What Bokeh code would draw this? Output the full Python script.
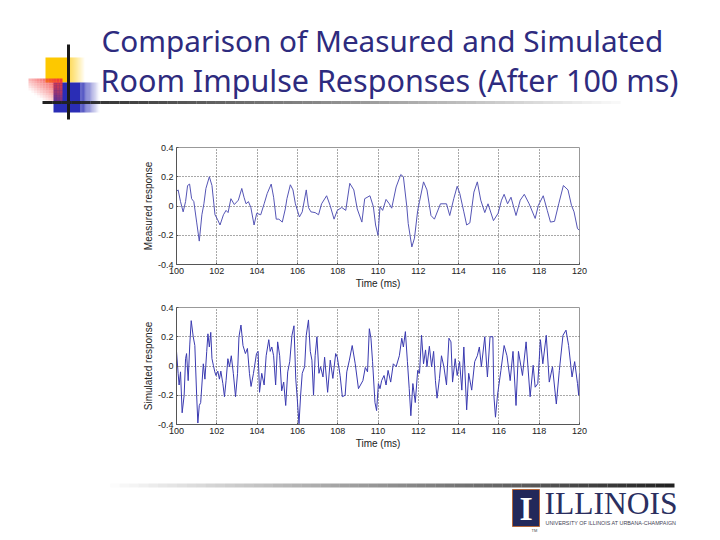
from bokeh.embed import file_html
from bokeh.resources import INLINE
from bokeh.layouts import column
from bokeh.plotting import figure
from bokeh.models import FixedTicker, Range1d
from bokeh.core.properties import value

TITLE_LINES = ["Comparison of Measured and Simulated",
               "Room Impulse Responses (After 100 ms)"]
X_TICKS = [100, 102, 104, 106, 108, 110, 112, 114, 116, 118, 120]
Y_TICKS = [-0.4, -0.2, 0, 0.2, 0.4]
X_LABEL = "Time (ms)"
LABEL_TOP = "Measured response"
LABEL_BOTTOM = "Simulated response"

top_t = [100,100.08,100.2,100.33,100.45,100.55,100.65,100.75,100.86,101,101.13,101.26,101.36,101.46,101.63,101.76,101.91,102.03,102.16,102.33,102.46,102.56,102.7,102.87,103.07,103.24,103.35,103.45,103.57,103.69,103.85,103.98,104.18,104.35,104.5,104.7,104.82,104.95,105.08,105.25,105.4,105.48,105.65,105.78,105.9,106.1,106.24,106.44,106.55,106.67,106.88,107.05,107.2,107.45,107.62,107.82,107.98,108.2,108.4,108.6,108.8,108.97,109.2,109.34,109.6,109.77,109.88,110,110.1,110.23,110.4,110.56,110.68,110.9,111.13,111.26,111.43,111.5,111.68,111.81,111.97,112.06,112.26,112.43,112.63,112.8,113.1,113.4,113.56,113.76,113.93,114.06,114.26,114.4,114.56,114.76,114.93,115.1,115.3,115.46,115.73,115.96,116.13,116.26,116.43,116.6,116.85,117.06,117.26,117.5,117.8,117.96,118.2,118.4,118.56,118.76,118.97,119.2,119.43,119.6,119.73,119.9,120]
top_v = [0.1,0.11,0.03,-0.04,0.03,0.14,0.15,0.05,0.03,-0.11,-0.24,-0.06,0.015,0.12,0.2,0.14,-0.06,-0.09,-0.13,-0.06,-0.03,-0.045,0.05,0.01,0.04,0.12,0.06,0.015,0.03,-0.01,-0.13,-0.05,-0.06,0.015,0.085,0.15,0.06,-0.09,-0.09,-0.11,-0.02,0.05,0.145,0.11,0.015,-0.075,-0.04,0.11,-0.01,-0.04,-0.045,-0.06,0.015,0.07,0.005,-0.09,-0.03,-0.01,-0.03,0.155,0.11,-0.02,-0.11,0.05,0.07,-0.005,-0.13,-0.2,-0.005,-0.03,0.045,0.015,-0.015,0.13,0.215,0.2,-0.005,-0.12,-0.28,-0.22,-0.03,0.03,0.165,0.11,-0.065,-0.09,0.015,0.015,-0.065,0.05,0.135,0.085,-0.04,-0.13,-0.115,0.095,0.165,0.04,-0.045,0.015,-0.1,-0.05,0.04,0.08,0.015,0.06,-0.065,0.04,0.08,0.015,-0.085,0.005,0.07,-0.03,-0.11,-0.105,0.015,0.14,0.11,0.005,-0.04,-0.155,-0.165]

bot_t = [100,100.08,100.13,100.2,100.28,100.38,100.45,100.5,100.58,100.66,100.73,100.83,100.91,101,101.06,101.13,101.2,101.26,101.33,101.41,101.5,101.56,101.63,101.7,101.76,101.83,101.9,101.96,102.05,102.13,102.2,102.3,102.38,102.46,102.55,102.63,102.72,102.82,102.93,103.03,103.1,103.2,103.3,103.42,103.52,103.62,103.7,103.82,103.97,104.05,104.12,104.23,104.35,104.45,104.58,104.65,104.73,104.82,104.92,105.02,105.12,105.22,105.32,105.42,105.52,105.62,105.73,105.83,105.92,105.98,106.08,106.16,106.24,106.36,106.44,106.55,106.64,106.72,106.8,106.88,106.97,107.07,107.15,107.27,107.35,107.5,107.63,107.76,107.9,107.98,108.12,108.23,108.37,108.45,108.58,108.72,108.87,109.03,109.25,109.37,109.48,109.57,109.65,109.73,109.85,109.93,110.02,110.1,110.18,110.3,110.4,110.5,110.63,110.76,110.9,111.06,111.18,111.26,111.36,111.46,111.55,111.63,111.73,111.85,111.97,112.06,112.16,112.26,112.36,112.43,112.55,112.66,112.76,112.85,112.93,113.05,113.15,113.27,113.4,113.52,113.62,113.7,113.83,113.93,114.05,114.16,114.26,114.4,114.5,114.65,114.8,114.93,115.03,115.13,115.3,115.43,115.56,115.7,115.75,115.83,115.93,116.1,116.26,116.4,116.56,116.7,116.85,116.97,117.17,117.35,117.55,117.7,117.8,117.93,118.06,118.18,118.35,118.5,118.66,118.85,119,119.18,119.33,119.46,119.63,119.76,119.9,119.96,120]
bot_v = [0.1,-0.05,-0.13,-0.04,-0.32,-0.2,0.05,0.085,-0.1,0.15,0.31,0.2,0.14,-0.2,-0.39,-0.27,-0.25,-0.13,0.015,-0.09,0.1,0.22,0.13,0.23,0.05,0.005,-0.04,-0.065,-0.035,-0.09,-0.035,-0.12,-0.21,-0.1,0.05,-0.005,0.07,-0.05,-0.21,-0.05,0.2,0.28,0.14,0.085,0.12,-0.05,-0.14,-0.05,0.085,0.1,-0.18,-0.05,-0.13,0.07,0.18,0.1,0.13,0.07,-0.13,0.165,0.07,-0.17,-0.11,-0.27,-0.04,0.03,0.21,0.275,-0.09,-0.2,-0.395,-0.2,-0.05,-0.005,0.21,0.315,0.1,0.04,-0.2,0.07,0.2,-0.05,-0.005,-0.075,0.06,-0.18,0.04,-0.085,0.085,0.06,-0.065,-0.21,-0.2,-0.04,0.04,0.14,0.015,-0.155,-0.1,-0.01,-0.04,0.255,0.19,0.03,-0.25,-0.305,-0.12,-0.155,-0.1,-0.065,-0.13,-0.03,-0.11,0.015,-0.005,0.07,0.19,0.13,0.235,0.03,-0.155,-0.34,-0.12,-0.25,-0.03,-0.05,0.21,0.015,0.11,-0.005,0.135,-0.005,0.1,-0.1,-0.22,-0.085,0.07,-0.005,-0.13,0.19,0.165,-0.11,0.05,-0.065,0.03,-0.165,0.13,-0.3,-0.05,-0.165,0.03,0.07,0.13,-0.005,0.2,-0.075,0.2,0.2,-0.2,-0.35,-0.2,-0.03,0.14,0.07,-0.1,0.1,-0.27,0.1,-0.065,0.165,-0.21,0.005,-0.145,-0.12,0.18,0.015,0.21,-0.11,-0.005,-0.26,-0.03,0.21,0.245,0.14,-0.075,0.03,-0.12,-0.2,-0.05]

NAVY = "#2e2b7e"
W = 704


def page_fig(y_top, y_bottom):
    """A figure whose data coordinates are page pixels."""
    f = figure(width=W, height=y_bottom - y_top, output_backend="svg", toolbar_location=None,
               x_range=Range1d(0, W), y_range=Range1d(y_bottom, y_top), frame_align=False,
               min_border=0, min_border_left=0, min_border_right=0, min_border_top=0, min_border_bottom=0)
    f.axis.visible = False
    f.grid.visible = False
    f.outline_line_color = None
    return f


def fade_x(f, x0, x1, y0, y1, color, a0, a1, n=16):
    for i in range(n):
        t = i / max(n - 1, 1)
        f.quad(left=x0 + (x1 - x0) * i / n, right=x0 + (x1 - x0) * (i + 1) / n, bottom=y1, top=y0,
               fill_color=color, fill_alpha=a0 + (a1 - a0) * t, line_color=None)


def signal_fig(t, v, ylabel, y_top, y_bottom, frame_top, frame_bottom, color):
    f = figure(width=W, height=y_bottom - y_top, output_backend="svg", toolbar_location=None,
               x_range=Range1d(100, 120), y_range=Range1d(-0.4, 0.4), frame_align=False,
               min_border_left=176, min_border_right=W - 579,
               min_border_top=frame_top - y_top, min_border_bottom=y_bottom - frame_bottom)
    f.line(t, v, line_color=color, line_width=1.0)
    f.grid.grid_line_color = "#333333"
    f.grid.grid_line_dash = "1 2"
    f.grid.grid_line_width = 1
    f.grid.grid_line_alpha = 0.85
    f.xaxis.ticker = FixedTicker(ticks=X_TICKS)
    f.yaxis.ticker = FixedTicker(ticks=Y_TICKS)
    f.yaxis.major_label_overrides = {-0.4: "-0.4", -0.2: "-0.2", 0: "0", 0.2: "0.2", 0.4: "0.4"}
    f.xaxis.axis_label = X_LABEL
    f.yaxis.axis_label = ylabel
    for ax in (f.xaxis[0], f.yaxis[0]):
        ax.axis_line_color = "#555555"
        ax.major_tick_line_color = "#555555"
        ax.major_tick_in = 2
        ax.major_tick_out = 0
        ax.minor_tick_line_color = None
        ax.major_label_text_font = "Liberation Sans"
        ax.major_label_text_font_size = "9px"
        ax.major_label_text_color = "#222222"
        ax.axis_label_text_font = "Liberation Sans"
        ax.axis_label_text_font_size = "10px"
        ax.axis_label_text_font_style = "normal"
        ax.axis_label_text_color = "#222222"
        ax.axis_label_standoff = 1
    f.xaxis[0].major_label_standoff = 3
    f.yaxis[0].major_label_standoff = 3
    f.outline_line_color = "#999999"
    f.background_fill_color = "white"
    return f


# header -------------------------------------------------------------
head = page_fig(0, 135)
fade_x(head, 45, 68, 57, 82, "#fdc800", 1, 1, n=1)
fade_x(head, 68, 84, 57, 82, "#fdc800", 0.8, 0.05)
fade_x(head, 53, 80, 82, 112, "#2a2db5", 1, 1, n=1)
fade_x(head, 80, 99, 82, 112, "#2a2db5", 0.9, 0.03)
NX, NY = 12, 10
for i in range(NX):
    for j in range(NY):
        fx, fy = (i + 1) / NX, 1 - j / NY
        head.quad(left=28 + 34 * i / NX, right=28 + 34 * (i + 1) / NX,
                  top=78 + 24 * j / NY, bottom=78 + 24 * (j + 1) / NY,
                  fill_color="#f23c3c", fill_alpha=max(0.0, min(1.0, fx * 0.75 + fy * 0.75 - 0.45)),
                  line_color=None)
head.segment(x0=[68], y0=[44], x1=[68], y1=[119], line_color="#1a1a1a", line_width=3)
fade_x(head, 42, 620, 100.5, 103.5, "#222222", 1.0, 0.03, n=60)
head.text(x=[101], y=[40], text=TITLE_LINES[:1], text_font=value("Noto Sans"),
          text_font_size="29.7px", text_color=NAVY, text_align="left", text_baseline="middle")
head.text(x=[100], y=[79], text=TITLE_LINES[1:], text_font=value("Noto Sans"),
          text_font_size="30.5px", text_color=NAVY, text_align="left", text_baseline="middle")

# plots --------------------------------------------------------------
top = signal_fig(top_t, top_v, LABEL_TOP, 135, 295, 147, 264, "#5555b5")
bottom = signal_fig(bot_t, bot_v, LABEL_BOTTOM, 295, 455, 307, 424, "#3a3ab0")

# footer -------------------------------------------------------------
foot = page_fig(455, 532)
fade_x(foot, 100, 674, 483, 487, "#222222", 0.0, 1.0, n=60)
foot.quad(left=512, right=539, top=489, bottom=526, fill_color="#22285a", line_color="#b5673a", line_width=1)
foot.text(x=[525.5], y=[508], text=["I"], text_font=value("Liberation Serif"), text_font_style="bold",
          text_font_size="34px", text_color="white", text_align="center", text_baseline="middle")
foot.text(x=[544], y=[503], text=["ILLINOIS"], text_font=value("Liberation Serif"),
          text_font_size="31.5px", text_color="#2b2f60", text_align="left", text_baseline="middle")
foot.text(x=[545], y=[522.5], text=["UNIVERSITY OF ILLINOIS AT URBANA-CHAMPAIGN"],
          text_font=value("Liberation Sans"), text_font_size="5.4px", text_color="#444455",
          text_align="left", text_baseline="middle")
foot.text(x=[531], y=[530], text=["TM"], text_font=value("Liberation Sans"), text_font_size="4px",
          text_color="#444444", text_align="left", text_baseline="middle")

page = column(head, top, bottom, foot, spacing=0)
open("out.html", "w").write(file_html(page, INLINE))
